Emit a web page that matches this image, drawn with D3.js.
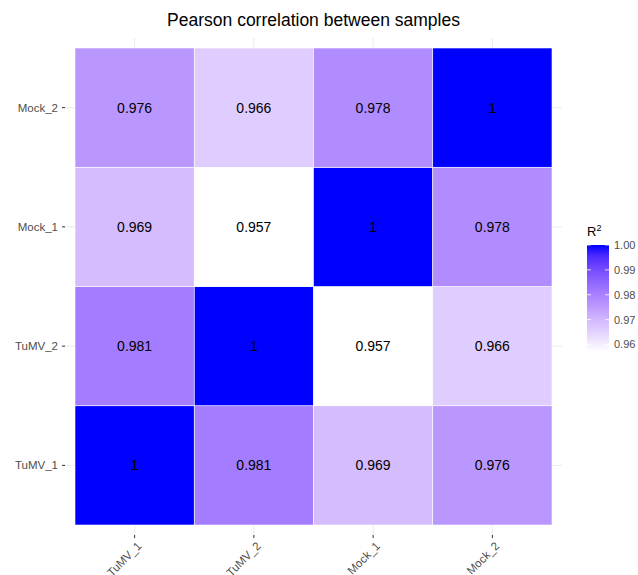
<!DOCTYPE html>
<html>
<head>
<meta charset="utf-8">
<script src="https://cdn.jsdelivr.net/npm/d3@7"></script>
<style>
body { margin: 0; background: #fff; }
text { font-family: "Liberation Sans", Arial, sans-serif; }
</style>
</head>
<body>
<div id="chart"></div>
<script>
var width = 638,
    height = 575;

// samples, bottom-to-top on y, left-to-right on x
var samples = ["TuMV_1", "TuMV_2", "Mock_1", "Mock_2"];
// correlation matrix, rows follow samples order
var r2 = [
  [1,     0.981, 0.969, 0.976],
  [0.981, 1,     0.957, 0.966],
  [0.969, 0.957, 1,     0.978],
  [0.976, 0.966, 0.978, 1]
];
var legendTicks = [0.96, 0.97, 0.98, 0.99, 1.00];

var cells = [];
samples.forEach(function(a, i) {
  samples.forEach(function(b, j) {
    cells.push({x: a, y: b, value: r2[i][j]});
  });
});

var panel = {left: 65, right: 562, top: 38, bottom: 535},
    pad = 10;

var svg = d3.select("#chart").append("svg")
    .attr("width", width)
    .attr("height", height);

var x = d3.scaleBand()
    .domain(samples)
    .range([panel.left + pad, panel.right - pad]);
var y = d3.scaleBand()
    .domain(samples)
    .range([panel.bottom - pad, panel.top + pad]);

var minV = d3.min(cells, function(d) { return d.value; }),
    maxV = d3.max(cells, function(d) { return d.value; });
var color = d3.scaleLinear()
    .domain([minV, maxV])
    .range(["#ffffff", "#0000ff"])
    .interpolate(d3.interpolateLab);

// grid lines
svg.append("g").selectAll("line.v")
  .data(samples).enter().append("line")
    .attr("x1", function(d) { return x(d) + x.bandwidth() / 2; })
    .attr("x2", function(d) { return x(d) + x.bandwidth() / 2; })
    .attr("y1", panel.top).attr("y2", panel.bottom)
    .attr("stroke", "#ebebeb").attr("stroke-width", 1);
svg.append("g").selectAll("line.h")
  .data(samples).enter().append("line")
    .attr("y1", function(d) { return y(d) + y.bandwidth() / 2; })
    .attr("y2", function(d) { return y(d) + y.bandwidth() / 2; })
    .attr("x1", panel.left).attr("x2", panel.right)
    .attr("stroke", "#ebebeb").attr("stroke-width", 1);

// tiles
svg.append("g").selectAll("rect")
  .data(cells).enter().append("rect")
    .attr("x", function(d) { return x(d.x); })
    .attr("y", function(d) { return y(d.y); })
    .attr("width", x.bandwidth())
    .attr("height", y.bandwidth())
    .attr("fill", function(d) { return color(d.value); })
    .attr("stroke", "#ffffff")
    .attr("stroke-width", 0.6);

svg.append("g").selectAll("text")
  .data(cells).enter().append("text")
    .attr("x", function(d) { return x(d.x) + x.bandwidth() / 2; })
    .attr("y", function(d) { return y(d.y) + y.bandwidth() / 2; })
    .attr("text-anchor", "middle")
    .attr("dy", "0.36em")
    .attr("font-size", 14)
    .attr("fill", "#000")
    .text(function(d) { return d.value === 1 ? "1" : d3.format(".3f")(d.value); });

// axes
var yAxis = svg.append("g");
yAxis.selectAll("line")
  .data(samples).enter().append("line")
    .attr("x1", panel.left - 3).attr("x2", panel.left)
    .attr("y1", function(d) { return y(d) + y.bandwidth() / 2; })
    .attr("y2", function(d) { return y(d) + y.bandwidth() / 2; })
    .attr("stroke", "#333").attr("stroke-width", 1);
yAxis.selectAll("text")
  .data(samples).enter().append("text")
    .attr("x", panel.left - 7)
    .attr("y", function(d) { return y(d) + y.bandwidth() / 2; })
    .attr("dy", "0.35em")
    .attr("text-anchor", "end")
    .attr("font-size", 11.5)
    .attr("fill", "#4d4d4d")
    .text(function(d) { return d; });

var xAxis = svg.append("g");
xAxis.selectAll("line")
  .data(samples).enter().append("line")
    .attr("x1", function(d) { return x(d) + x.bandwidth() / 2; })
    .attr("x2", function(d) { return x(d) + x.bandwidth() / 2; })
    .attr("y1", panel.bottom).attr("y2", panel.bottom + 3)
    .attr("stroke", "#333").attr("stroke-width", 1);
xAxis.selectAll("text")
  .data(samples).enter().append("text")
    .attr("transform", function(d) {
      return "translate(" + (x(d) + x.bandwidth() / 2 + 2) + "," + (panel.bottom + 6) + ") rotate(-45)";
    })
    .attr("text-anchor", "end")
    .attr("dy", "0.7em")
    .attr("font-size", 11.5)
    .attr("fill", "#4d4d4d")
    .text(function(d) { return d; });

// title
svg.append("text")
    .attr("x", (panel.left + panel.right) / 2)
    .attr("y", 26)
    .attr("text-anchor", "middle")
    .attr("font-size", 17.5)
    .attr("fill", "#000")
    .text("Pearson correlation between samples");

// legend
var lg = {x: 587, w: 22, top: 245, bottom: 352};
var ly = d3.scaleLinear().domain([minV, maxV]).range([lg.bottom, lg.top]);

var defs = svg.append("defs");
var grad = defs.append("linearGradient")
    .attr("id", "r2grad")
    .attr("x1", 0).attr("y1", 1).attr("x2", 0).attr("y2", 0);
d3.range(0, 1.0001, 0.1).forEach(function(t) {
  grad.append("stop")
    .attr("offset", t)
    .attr("stop-color", color(minV + t * (maxV - minV)));
});
svg.append("rect")
    .attr("x", lg.x).attr("y", lg.top)
    .attr("width", lg.w).attr("height", lg.bottom - lg.top)
    .attr("fill", "url(#r2grad)");

var lt = svg.append("g");
legendTicks.forEach(function(v) {
  lt.append("line")
    .attr("x1", lg.x).attr("x2", lg.x + 4)
    .attr("y1", ly(v)).attr("y2", ly(v))
    .attr("stroke", "#fff").attr("stroke-width", 0.8);
  lt.append("line")
    .attr("x1", lg.x + lg.w - 4).attr("x2", lg.x + lg.w)
    .attr("y1", ly(v)).attr("y2", ly(v))
    .attr("stroke", "#fff").attr("stroke-width", 0.8);
  lt.append("text")
    .attr("x", lg.x + lg.w + 5)
    .attr("y", ly(v))
    .attr("dy", "0.35em")
    .attr("font-size", 11)
    .attr("fill", "#4d4d4d")
    .text(d3.format(".2f")(v));
});

var lt2 = svg.append("text")
    .attr("x", lg.x)
    .attr("y", 236)
    .attr("font-size", 13)
    .attr("fill", "#000");
lt2.append("tspan").text("R");
lt2.append("tspan").attr("dy", -5).attr("font-size", 9).text("2");
</script>
</body>
</html>
